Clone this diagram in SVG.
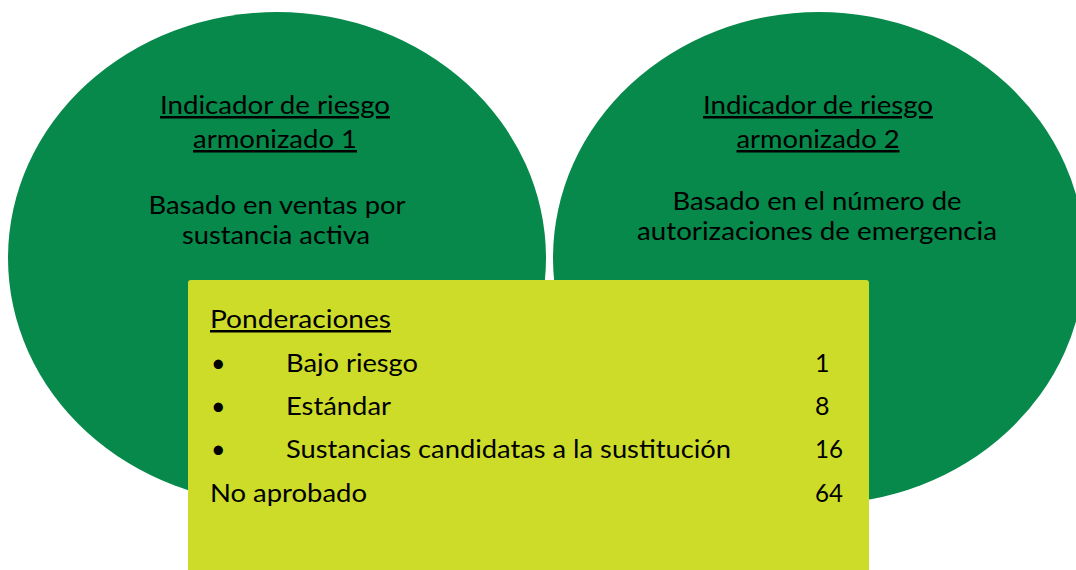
<svg xmlns="http://www.w3.org/2000/svg" width="1076" height="570" viewBox="0 0 1076 570">
<style>
.ell{fill:#06894A;}
.box{fill:#CDDC29;}
text{font-family:Lato,"Liberation Sans",sans-serif;font-size:25px;fill:#000;}
.c{text-anchor:middle;}
.u{text-decoration:underline;}
</style>
<rect width="1076" height="570" fill="#fff"/>
<g id="node-left">
<ellipse class="ell" cx="277" cy="258" rx="269" ry="246"/>
<text class="c u" x="275" y="114" textLength="230" lengthAdjust="spacingAndGlyphs">Indicador de riesgo</text>
<text class="c u" x="275" y="148" textLength="164" lengthAdjust="spacingAndGlyphs">armonizado 1</text>
<text class="c" x="277" y="214" textLength="257" lengthAdjust="spacingAndGlyphs">Basado en ventas por</text>
<text class="c" x="276" y="244" textLength="188" lengthAdjust="spacingAndGlyphs">sustancia activa</text>
</g>
<g id="node-right">
<ellipse class="ell" cx="819" cy="258" rx="266" ry="246"/>
<text class="c u" x="818" y="114" textLength="230" lengthAdjust="spacingAndGlyphs">Indicador de riesgo</text>
<text class="c u" x="818" y="148" textLength="163" lengthAdjust="spacingAndGlyphs">armonizado 2</text>
<text class="c" x="817" y="210" textLength="289" lengthAdjust="spacingAndGlyphs">Basado en el número de</text>
<text class="c" x="817" y="240" textLength="360" lengthAdjust="spacingAndGlyphs">autorizaciones de emergencia</text>
</g>
<g id="node-box">
<rect class="box" x="188" y="280" width="681" height="300" rx="3"/>
<text class="u" x="210" y="328" textLength="181" lengthAdjust="spacingAndGlyphs">Ponderaciones</text>
<text x="211" y="372">•</text>
<text x="286" y="372" textLength="132" lengthAdjust="spacingAndGlyphs">Bajo riesgo</text>
<text x="815" y="372">1</text>
<text x="211" y="415">•</text>
<text x="286" y="415" textLength="105" lengthAdjust="spacingAndGlyphs">Estándar</text>
<text x="815" y="415">8</text>
<text x="211" y="458">•</text>
<text x="286" y="458" textLength="445" lengthAdjust="spacingAndGlyphs">Sustancias candidatas a la sustitución</text>
<text x="815" y="458" textLength="28" lengthAdjust="spacingAndGlyphs">16</text>
<text x="210" y="502" textLength="157" lengthAdjust="spacingAndGlyphs">No aprobado</text>
<text x="815" y="502" textLength="28" lengthAdjust="spacingAndGlyphs">64</text>
</g>
<g id="connectors"></g>
</svg>
